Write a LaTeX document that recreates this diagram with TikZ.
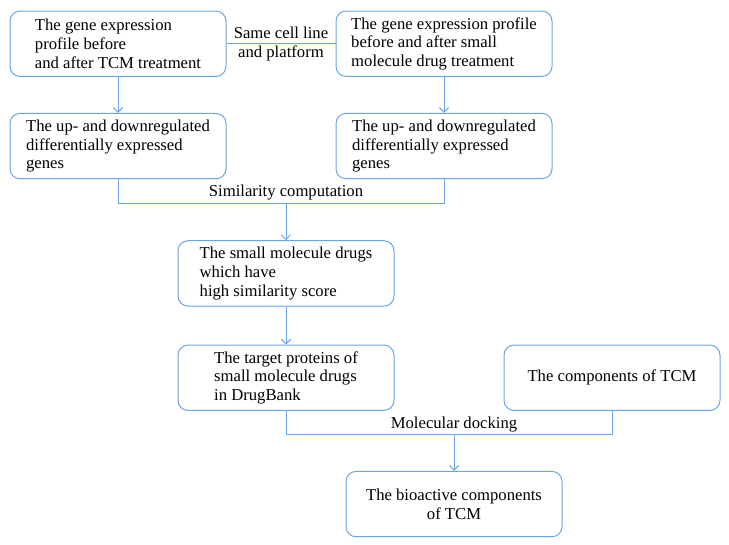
\documentclass[tikz,border=0pt]{standalone}
\usepackage{fontspec}
\setmainfont{Liberation Serif}
\usetikzlibrary{arrows.meta, positioning}
\definecolor{flowblue}{RGB}{108,164,230}

\begin{document}
\begin{tikzpicture}[>={Straight Barb[length=3.5pt,width=7pt]}, font=\fontsize{12.5}{14}\selectfont]
  \tikzset{
    blank/.style={
      text centered},
    stage/.style={
      rectangle,
      rounded corners=7.5pt,
      draw=flowblue,
      line width=.75pt,
      minimum width=162pt,
      minimum height=49pt,
      align=left},
    link/.style={
      draw=flowblue,
      line width=.75pt}}

  \useasboundingbox (0,0) rectangle (546.75pt,-408pt);

  \node[stage] (tcm) at (88.5pt,-32.8pt) {The gene expression\\profile before\\and after TCM treatment};
  \node[stage] (drug) [right=81.75pt of tcm] {The gene expression profile\\before and after small\\molecule drug treatment};
  \node[stage] (tcmdeg) [below=27pt of tcm] {The up- and downregulated\\differentially expressed\\genes};
  \node[stage] (drugdeg) [below=27pt of drug] {The up- and downregulated\\differentially expressed\\genes};
  \node[stage] (hits) [below=45.75pt of tcmdeg, xshift=126pt] {The small molecule drugs\\which have\\high similarity score};
  \node[stage] (targets) [below=28.5pt of hits] {The target proteins of\\small molecule drugs\\in DrugBank};
  \node[stage, align=center] (comps) [right=81.75pt of targets] {The components of TCM};
  \node[stage, align=center] (bioactive) [below=45pt of targets, xshift=126pt] {The bioactive components\\of TCM};

  \path[link] (tcm) -- (drug) node[blank, midway, align=center] (samelabel) {Same cell line\\and platform};

  \path[link, ->] (tcm) edge (tcmdeg);
  \path[link, ->] (drug) edge (drugdeg);

  \coordinate (simjoin) at ([yshift=-18pt]tcmdeg.south -| hits.north);
  \draw[link] (tcmdeg.south) |- (simjoin) -| (drugdeg.south);
  \node[blank, above=0pt of simjoin, inner sep=2pt] (simlabel) {Similarity computation};
  \draw[link, ->] (simjoin) -- (hits);

  \path[link, ->] (hits) edge (targets);

  \coordinate (dockjoin) at ([yshift=-18pt]targets.south -| bioactive.north);
  \draw[link] (targets.south) |- (dockjoin) -| (comps.south);
  \node[blank, above=0pt of dockjoin, inner sep=2pt] (docklabel) {Molecular docking};
  \draw[link, ->] (dockjoin) -- (bioactive);

\end{tikzpicture}
\end{document}
